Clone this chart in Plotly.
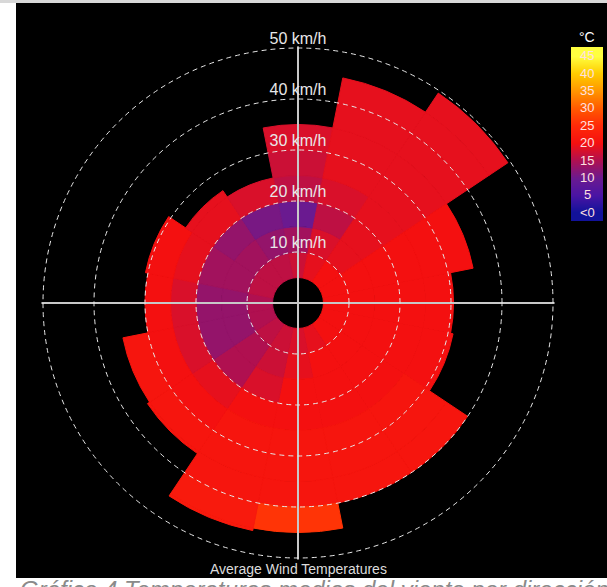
import plotly.graph_objects as go

W, H = 607, 587

# ---------------- data ----------------
directions = ["N", "NNE", "NE", "ENE", "E", "ESE", "SE", "SSE",
              "S", "SSW", "SW", "WSW", "W", "WNW", "NW", "NNW"]
theta_deg = [0, 22.5, 45, 67.5, 90, 112.5, 135, 157.5,
             180, 202.5, 225, 247.5, 270, 292.5, 315, 337.5]
# maximum wind speed reached in each direction (km/h)
max_speed = [35, 45, 49.5, 35, 30.5, 31, 40, 40,
             45, 45.5, 35.5, 35, 30, 30.5, 26.5, 25]
# speed bins (km/h)
bin_start = [5, 10, 15, 20, 25, 30, 35, 40, 45]
# average temperature (°C) per speed bin, by direction (N ... NNW)
temp_05_10 = [17, 19, 20, 20, 20, 20, 20, 19, 18, 17, 16, 15, 15, 16, 16, 16]
temp_10_15 = [14, 18, 19, 20, 20, 20, 20, 20, 19, 17, 15, 13, 13, 14, 14, 13]
temp_15_20 = [10, 16, 19, 20, 20, 20, 20, 20, 20, 18, 15, 13, 13, 14, 13, 11]
temp_20_25 = [16, 18, 19, 20, 20, 20, 20, 20, 20, 20, 19, 18, 18, 19, 19, 18]
temp_25_30 = [17, 19, 19, 20, 20, 20, 21, 21, 21, 21, 20, 20, 20, 20, 19, None]
temp_30_35 = [18, 19, 19, 20, 20, 20, 21, 21, 21, 21, 21, 21, None, 20, None, None]
temp_35_40 = [None, 19, 19, None, None, None, 21, 21, 21, 21, 21, None, None, None, None, None]
temp_40_45 = [None, 19, 19, None, None, None, None, None, 26, 22, None, None, None, None, None, None]
temp_45_50 = [None, None, 19, None, None, None, None, None, None, 22, None, None, None, None, None, None]
temp_bins = [temp_05_10, temp_10_15, temp_15_20, temp_20_25, temp_25_30,
             temp_30_35, temp_35_40, temp_40_45, temp_45_50]

ring_speeds = [10, 20, 30, 40, 50]
ring_labels = ["10 km/h", "20 km/h", "30 km/h", "40 km/h", "50 km/h"]

legend_temps = [0, 5, 10, 15, 20, 25, 30, 35, 40, 45]
legend_labels = ["<0", "5", "10", "15", "20", "25", "30", "35", "40", "45"]

# ---------------- style ----------------
CMIN, CMAX = 0, 45
colorscale = [
    [0 / 45, "#12129a"],
    [5 / 45, "#4a14a4"],
    [10 / 45, "#6a1a90"],
    [15 / 45, "#b01050"],
    [20 / 45, "#f41010"],
    [25 / 45, "#ff2a08"],
    [30 / 45, "#ff5a00"],
    [35 / 45, "#ff9400"],
    [40 / 45, "#ffcc00"],
    [45 / 45, "#ffff40"],
]

RMAX = 50.3
cx, cy = 298, 303
R = 255 * RMAX / 50  # pixel radius of the polar range
dom_x = [(cx - R) / W, (cx + R) / W]
dom_y = [1 - (cy + R) / H, 1 - (cy - R) / H]

fig = go.Figure()

for b0, temps in zip(bin_start, temp_bins):
    r, base, th, col = [], [], [], []
    for i, t in enumerate(temps):
        if t is None:
            continue
        top = min(b0 + 5, max_speed[i])
        r.append(top - b0)
        base.append(b0)
        th.append(theta_deg[i])
        col.append(t)
    fig.add_trace(go.Barpolar(
        r=r, base=base, theta=th, width=22.5,
        marker=dict(color=col, colorscale=colorscale, cmin=CMIN, cmax=CMAX,
                    line=dict(width=1, color=col, colorscale=colorscale,
                              cmin=CMIN, cmax=CMAX)),
        hoverinfo="skip", subplot="polar"))

# overlay subplot for grid (drawn above sectors)
fig.add_trace(go.Scatterpolar(r=[], theta=[], subplot="polar2", showlegend=False))
# north arrow extension
fig.add_trace(go.Scatterpolar(
    r=[50, 57.5], theta=[0, 0], mode="lines", cliponaxis=False,
    line=dict(color="#c8c8c8", width=1.5), subplot="polar2", hoverinfo="skip"))
fig.add_trace(go.Scatterpolar(
    r=[55.8], theta=[0], mode="markers", cliponaxis=False,
    marker=dict(symbol="arrow-wide", size=10, color="#c8c8c8", angle=0),
    subplot="polar2", hoverinfo="skip"))
# ring labels
fig.add_trace(go.Scatterpolar(
    r=ring_speeds, theta=[0] * len(ring_speeds), mode="text",
    text=ring_labels, textposition="top center", cliponaxis=False,
    textfont=dict(family="Arial", size=16, color="#e8e8e8"),
    subplot="polar2", hoverinfo="skip"))

# colour legend as heatmap
fig.add_trace(go.Heatmap(
    z=[[t] for t in legend_temps], y=legend_temps, x=[0],
    colorscale=colorscale, zmin=CMIN, zmax=CMAX, showscale=False,
    zsmooth="best", xaxis="x", yaxis="y", hoverinfo="skip"))

axis_common = dict(showgrid=False, showticklabels=False, ticks="", showline=False)
fig.update_layout(
    width=W, height=H, margin=dict(l=0, r=0, t=0, b=0),
    paper_bgcolor="black", plot_bgcolor="black", showlegend=False,
    polar=dict(domain=dict(x=dom_x, y=dom_y), bgcolor="black",
               radialaxis=dict(range=[0, RMAX], **axis_common),
               angularaxis=dict(rotation=90, direction="clockwise", **axis_common)),
    polar2=dict(domain=dict(x=dom_x, y=dom_y), bgcolor="rgba(0,0,0,0)",
                radialaxis=dict(range=[0, RMAX], tickvals=ring_speeds, showgrid=True,
                                gridcolor="#e8e8e8", gridwidth=1.3, griddash="5px,4px",
                                showticklabels=False, ticks="", showline=False),
                angularaxis=dict(rotation=90, direction="clockwise",
                                 tickvals=[0, 90, 180, 270], showgrid=True,
                                 gridcolor="#c8c8c8", gridwidth=1.5, griddash="solid",
                                 showticklabels=False, ticks="", showline=False)),
    xaxis=dict(domain=[571 / W, 603 / W], range=[-0.5, 0.5], visible=False),
    yaxis=dict(domain=[1 - 221 / H, 1 - 47 / H], range=[-2.5, 47.5], visible=False),
)

# legend labels
for t, lab in zip(legend_temps, legend_labels):
    fig.add_annotation(x=0, y=t, xref="x", yref="y", text=lab, showarrow=False,
                       font=dict(family="Arial", size=13, color="#ffe0e0"))
fig.add_annotation(x=0, y=47.5, xref="x", yref="y", text="°C", showarrow=False,
                   yanchor="bottom", font=dict(family="Arial", size=14, color="#ffffff"))

# frame: white margins
fig.add_shape(type="rect", xref="paper", yref="paper", x0=0, x1=16 / W, y0=0, y1=1,
              fillcolor="white", line_width=0, layer="above")
fig.add_shape(type="rect", xref="paper", yref="paper", x0=0, x1=1, y0=0, y1=(H - 578) / H,
              fillcolor="white", line_width=0, layer="above")
fig.add_shape(type="rect", xref="paper", yref="paper", x0=0, x1=1, y0=1 - 3 / H, y1=1,
              fillcolor="#d8d8d8", line_width=0, layer="above")

fig.add_annotation(x=cx / W, y=1 - 569 / H, xref="paper", yref="paper",
                   xanchor="center", yanchor="middle",
                   text="Average Wind Temperatures", showarrow=False,
                   font=dict(family="Arial", size=14, color="#dcdcdc"))
fig.add_annotation(x=18 / W, y=1 - 574 / H, xref="paper", yref="paper",
                   xanchor="left", yanchor="top", showarrow=False,
                   text="<i>Gráfico 4 Temperaturas medias del viento por dirección. Cs</i>",
                   font=dict(family="Arial", size=24, color="#8a8a8a"))

fig.write_html("out.html", config={"displayModeBar": False},
               post_script="document.body.style.margin='0';")
